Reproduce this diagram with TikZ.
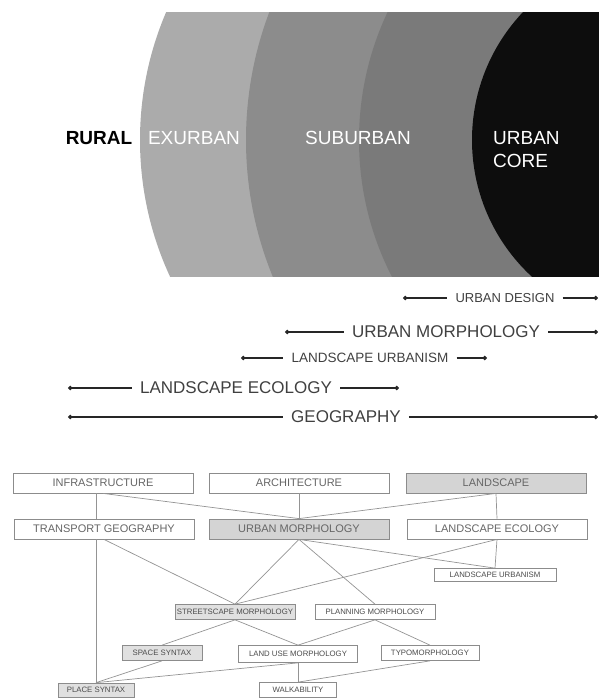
\documentclass[tikz,border=0pt]{standalone}
\usepackage{fontspec}
\setmainfont{Liberation Sans}
\usetikzlibrary{arrows.meta}

\definecolor{exurbgray}{gray}{0.67}
\definecolor{suburbgray}{gray}{0.55}
\definecolor{innergray}{gray}{0.48}
\definecolor{coregray}{gray}{0.05}
\definecolor{boxline}{gray}{0.55}
\definecolor{boxfill}{gray}{0.83}
\definecolor{lightfill}{gray}{0.88}
\definecolor{linkgray}{gray}{0.58}

\begin{document}
\begin{tikzpicture}[x=1pt,y=-1pt,
    zone/.style={text=white,inner sep=0pt,align=left,font=\fontsize{19}{23}\selectfont},
    rurallbl/.style={text=black,inner sep=0pt,font=\bfseries\fontsize{19}{23}\selectfont},
    reach/.style={draw=black!85,line width=1.1pt},
    reachlbl/.style={text=black!75,inner xsep=8pt,inner ysep=0pt},
    bigfield/.style={draw=boxline,line width=0.8pt,fill=white,text=black!60,minimum width=180pt,
      minimum height=20pt,inner sep=0pt,font=\fontsize{11}{11}\selectfont},
    smallfield/.style={draw=boxline,line width=0.7pt,fill=white,text=black!70,minimum height=15pt,
      inner sep=0pt,font=\fontsize{7.8}{8}\selectfont},
    shaded/.style={fill=boxfill},
    lightshaded/.style={fill=lightfill},
    link/.style={draw=linkgray,line width=0.7pt}]
  \useasboundingbox (0,0) rectangle (599,699);

  % rings
  \begin{scope}
    \clip (0,12) rectangle (599,276);
    \fill[exurbgray] (465,140) circle[radius=325pt];
    \fill[suburbgray] (607,140) circle[radius=361pt];
    \fill[innergray] (659,140) circle[radius=300pt];
    \fill[coregray] (658,140) circle[radius=186pt];
  \end{scope}
  \node[rurallbl] (rural) at (99,138) {RURAL};
  \node[zone] (exurban) at (194,138) {EXURBAN};
  \node[zone] (suburban) at (358,138) {SUBURBAN};
  \node[zone,anchor=west] (core) at (493,149.5) {URBAN\\CORE};

  % disciplines
  \coordinate (ud-l) at (403,298);
  \coordinate (ud-r) at (598,298);
  \node[reachlbl,font=\fontsize{13}{13}\selectfont] (ud) at (505,298) {URBAN DESIGN};
  \path (ud-l) edge[reach,{Circle[length=4.5pt]}-] (ud);
  \path (ud) edge[reach,-{Circle[length=4.5pt]}] (ud-r);

  \coordinate (um-l) at (285,332);
  \coordinate (um-r) at (598,332);
  \node[reachlbl,font=\fontsize{17}{17}\selectfont] (umr) at (446,332) {URBAN MORPHOLOGY};
  \path (um-l) edge[reach,{Circle[length=4.5pt]}-] (umr);
  \path (umr) edge[reach,-{Circle[length=4.5pt]}] (um-r);

  \coordinate (lu-l) at (241,358);
  \coordinate (lu-r) at (487,358);
  \node[reachlbl,font=\fontsize{13.5}{13.5}\selectfont] (lur) at (370,358) {LANDSCAPE URBANISM};
  \path (lu-l) edge[reach,{Circle[length=4.5pt]}-] (lur);
  \path (lur) edge[reach,-{Circle[length=4.5pt]}] (lu-r);

  \coordinate (le-l) at (68,388);
  \coordinate (le-r) at (399,388);
  \node[reachlbl,font=\fontsize{17}{17}\selectfont] (ler) at (236,388) {LANDSCAPE ECOLOGY};
  \path (le-l) edge[reach,{Circle[length=4.5pt]}-] (ler);
  \path (ler) edge[reach,-{Circle[length=4.5pt]}] (le-r);

  \coordinate (geo-l) at (68,417);
  \coordinate (geo-r) at (598,417);
  \node[reachlbl,font=\fontsize{17}{17}\selectfont] (geo) at (346,417) {GEOGRAPHY};
  \path (geo-l) edge[reach,{Circle[length=4.5pt]}-] (geo);
  \path (geo) edge[reach,-{Circle[length=4.5pt]}] (geo-r);

  % tree of fields
  \node[bigfield] (inf) at (103,483) {INFRASTRUCTURE};
  \node[bigfield] (arch) at (299,483) {ARCHITECTURE};
  \node[bigfield,shaded] (land) at (496,483) {LANDSCAPE};
  \node[bigfield] (tg) at (104,529) {TRANSPORT GEOGRAPHY};
  \node[bigfield,shaded] (um) at (299,529) {URBAN MORPHOLOGY};
  \node[bigfield] (le) at (497,529) {LANDSCAPE ECOLOGY};
  \node[smallfield,minimum width=122pt,minimum height=13pt] (lu) at (495,575) {LANDSCAPE URBANISM};
  \node[smallfield,lightshaded,minimum width=120pt] (street) at (235,612) {STREETSCAPE MORPHOLOGY};
  \node[smallfield,minimum width=120pt] (plan) at (375,612) {PLANNING MORPHOLOGY};
  \node[smallfield,lightshaded,minimum width=80pt] (space) at (162,653) {SPACE SYNTAX};
  \node[smallfield,minimum width=119pt,minimum height=17pt] (landuse) at (298,654) {LAND USE MORPHOLOGY};
  \node[smallfield,minimum width=98pt] (typo) at (430,653) {TYPOMORPHOLOGY};
  \node[smallfield,lightshaded,minimum width=76pt,minimum height=14pt] (place) at (96,690) {PLACE SYNTAX};
  \node[smallfield,minimum width=77pt] (walk) at (298,690) {WALKABILITY};

  \path (inf.south -| place) edge[link] (tg.north -| place);
  \path (tg.south -| place) edge[link] (place.north);
  \path (inf.south) edge[link] (um.north);
  \path (arch.south) edge[link] (um.north);
  \path (land.south) edge[link] (um.north);
  \path (land.south) edge[link] (le.north);
  \path (le.south) edge[link] (lu.north);
  \path (um.south) edge[link] (lu.north);
  \path (um.south) edge[link] (street.north);
  \path (um.south) edge[link] (plan.north);
  \path (le.south) edge[link] (street.north);
  \path (tg.south) edge[link] (street.north);
  \path (street.south) edge[link] (landuse.north);
  \path (street.south) edge[link] (space.north);
  \path (space.south) edge[link] (place.north);
  \path (plan.south) edge[link] (landuse.north);
  \path (plan.south) edge[link] (typo.north);
  \path (landuse.south) edge[link] (walk.north);
  \path (landuse.south) edge[link] (place.north);
  \path (typo.south) edge[link] (walk.north);
\end{tikzpicture}
\end{document}
